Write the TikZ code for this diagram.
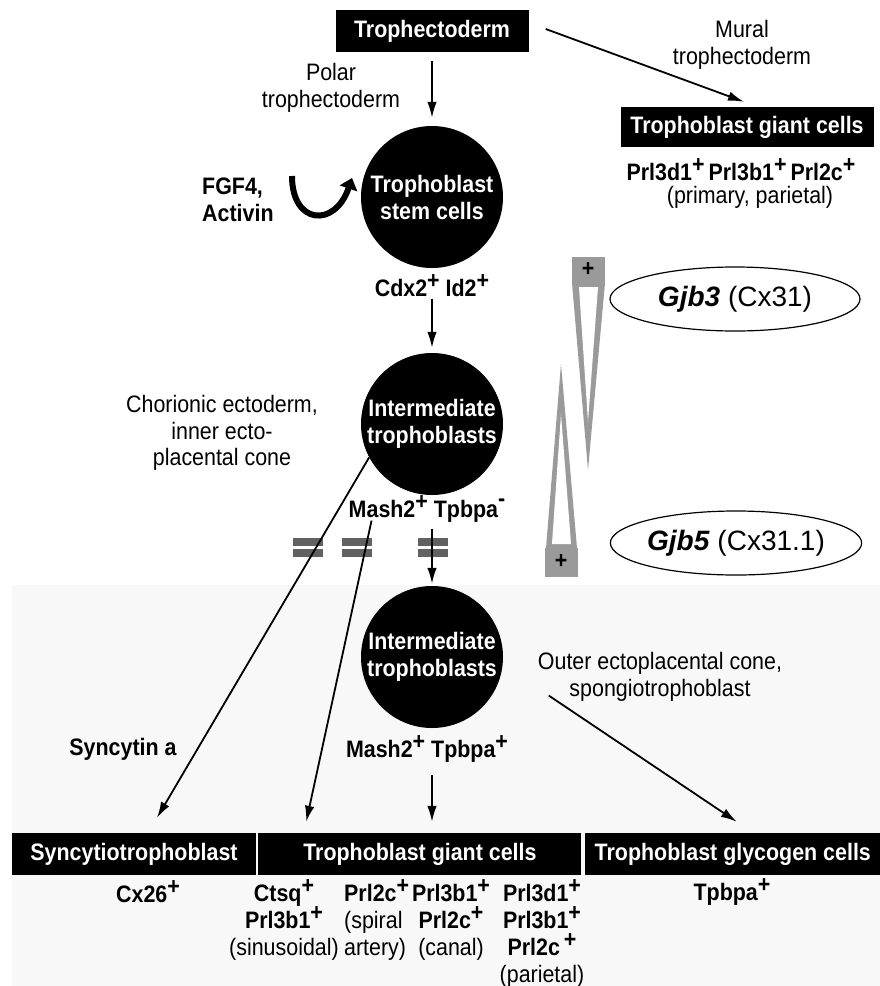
\documentclass[tikz,border=0pt]{standalone}
\usepackage{fontspec}
\setmainfont{Liberation Sans}[FakeStretch=0.9]
\newfontfamily\gfam{Liberation Sans}
\usetikzlibrary{arrows.meta,positioning,calc,shapes.geometric}
\definecolor{bg}{HTML}{F8F8F8}
\definecolor{wg}{HTML}{9A9A9A}
\definecolor{br}{HTML}{616161}
\newcommand{\fb}{\fontsize{23.8}{27}\selectfont\bfseries}
\newcommand{\fr}{\fontsize{23.8}{26.5}\selectfont\mdseries}
\newcommand{\fg}{\gfam\fontsize{28}{32}\selectfont}
\newcommand{\Pp}{\raisebox{0.33em}{+}}
\newcommand{\Mm}{\raisebox{0.45em}{-}}

\begin{document}
\begin{tikzpicture}[x=1pt,y=-1pt,
  bx/.style={fill=black,text=white,font=\fb,inner sep=0pt,minimum height=42pt},
  cell/.style={circle,fill=black,text=white,font=\fb,align=center,minimum size=142pt,inner sep=0pt},
  lab/.style={font=\fr,align=center,inner sep=0pt},
  mk/.style={font=\fb,align=center,inner sep=0pt},
  gene/.style={ellipse,draw,line width=1.2pt,minimum width=250pt,minimum height=64pt,inner sep=0pt,font=\fg},
  arr/.style={-{Latex[length=16pt,width=9.5pt]},line width=1.8pt}]
  \useasboundingbox (0,0) rectangle (880,986);
  \fill[bg] (12,585) rectangle (880,986);

  % lineage
  \node[bx,minimum width=193pt] (td) at (432,31) {Trophectoderm};
  \node[bx,minimum width=253pt,minimum height=40pt] (tgc) at (747,127) {Trophoblast giant cells};
  \node[mk] (tgcm) at (741,170) {Prl3d1\Pp\,Prl3b1\Pp\,Prl2c\Pp};
  \node[lab] (prim) at (750,197) {(primary, parietal)};
  \node[lab] (polar) at (331,88) {Polar\\trophectoderm};
  \node[lab] (mural) at (742,45) {Mural\\trophectoderm};

  \node[cell] (tsc) at (432,197) {Trophoblast\\stem cells};
  \node[mk,anchor=west,align=left] (fgf) at (202,200) {FGF4,\\Activin};
  \node[mk,below=6pt of tsc] (cdx) {Cdx2\Pp\ Id2\Pp};

  \node[cell] (it1) at (432,424) {Intermediate\\trophoblasts};
  \node[lab] (chor) at (222,433) {Chorionic ectoderm,\\inner ecto-\\placental cone};
  \node[mk] (mash1) at (427,509) {Mash2\Pp\ Tpbpa\Mm};

  \node[cell] (it2) at (432,657) {Intermediate\\trophoblasts};
  \node[lab] (outer) at (660,677) {Outer ectoplacental cone,\\spongiotrophoblast};
  \node[mk] (mash2) at (427,749) {Mash2\Pp\ Tpbpa\Pp};
  \node[mk] (sync) at (123,749) {Syncytin a};

  % end types
  \node[bx,minimum width=244pt] (syn) at (134,854) {Syncytiotrophoblast};
  \node[bx,minimum width=323pt,right=2pt of syn] (tgcb) {Trophoblast giant cells};
  \node[bx,minimum width=296pt,right=3pt of tgcb] (gly) {Trophoblast glycogen cells};
  \node[mk] (cx) at (148,892) {Cx26\Pp};
  \node[mk,anchor=north] (sinu) at (284,879) {Ctsq\Pp\\Prl3b1\Pp\\{\fr(sinusoidal)}};
  \node[mk,anchor=north west,align=left] (spir) at (344,879) {Prl2c\Pp\\{\fr(spiral}\\{\fr artery)}};
  \node[mk,anchor=north] (cana) at (451,879) {Prl3b1\Pp\\Prl2c\Pp\\{\fr(canal)}};
  \node[mk,anchor=north] (pari) at (542,879) {Prl3d1\Pp\\Prl3b1\Pp\\Prl2c\,\Pp\\{\fr(parietal)}};
  \node[mk] (tpb) at (732,892) {Tpbpa\Pp};

  % connexin gradients
  \node[gene] (gjb3) at (735,299) {\textbf{\textit{Gjb3}} (Cx31)};
  \node[gene] (gjb5) at (736,543) {\textbf{\textit{Gjb5}} (Cx31.1)};
  \fill[wg] (572,257) rectangle (605,283);
  \fill[wg] (572,283) -- (605,283) -- (588,470) -- cycle;
  \fill[white] (579,287) -- (598,287) -- (588,422) -- cycle;
  \node[mk] (up3) at (588,270) {+};
  \fill[wg] (545,548) rectangle (578,577);
  \fill[wg] (546,548) -- (577,548) -- (561,364) -- cycle;
  \fill[white] (552,544) -- (571,544) -- (561,414) -- cycle;
  \node[mk] (up5) at (561,562) {+};

  % blocks
  \foreach \bx in {308,357,433} {
    \fill[br] (\bx-15,538) rectangle (\bx+15,546);
    \fill[br] (\bx-15,549) rectangle (\bx+15,557);
  }

  % arrows
  \draw[arr,shorten <=9pt,shorten >=8pt] (td) -- (tsc);
  \draw[arr] ([xshift=17pt,yshift=2pt]td.east) -- ([xshift=-3pt,yshift=5pt]tgc.north);
  \draw[line width=6pt,-{Triangle[length=11pt,width=18pt]}] (292,176) .. controls (292,225) and (335,228) .. (352,178);
  \draw[arr,shorten <=2pt,shorten >=5pt] (cdx) -- (it1);
  \draw[arr,shorten <=6pt,shorten >=2pt] (it2.north |- mash1.south) -- (it2.north);
  \draw[arr,shorten <=12pt,shorten >=11pt] (it2.south |- mash2.south) -- (it2.south |- tgcb.north);
  \draw[arr] (it1.208) -- ([xshift=23pt,yshift=15pt]syn.north);
  \draw[arr] ([xshift=23pt,yshift=2pt]mash1.south west) -- ([xshift=48pt,yshift=11pt]tgcb.north west);
  \draw[arr] ([xshift=11pt,yshift=6pt]outer.south west) -- ([xshift=4pt,yshift=11pt]gly.north);
\end{tikzpicture}
\end{document}
